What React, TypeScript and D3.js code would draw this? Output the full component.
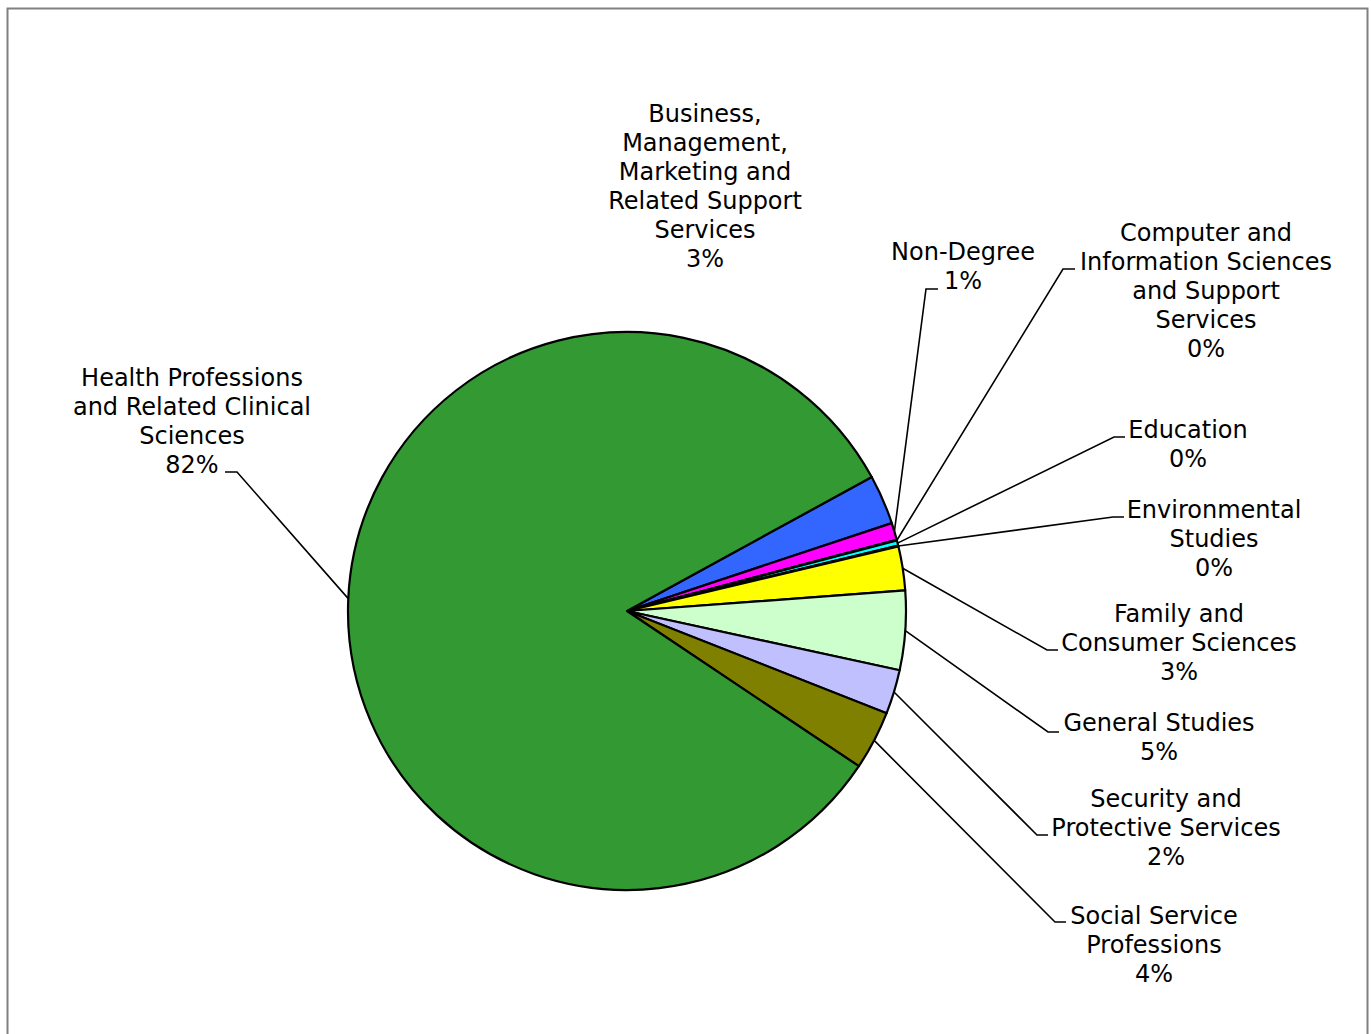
import React from "react";
import * as d3 from "d3";

// ---- data ----
const categories = [
  "Business, Management, Marketing and Related Support Services",
  "Non-Degree",
  "Computer and Information Sciences and Support Services",
  "Education",
  "Environmental Studies",
  "Family and Consumer Sciences",
  "General Studies",
  "Security and Protective Services",
  "Social Service Professions",
  "Health Professions and Related Clinical Sciences",
];
const values = [2.87, 1.0, 0.04, 0.3, 0.04, 2.55, 4.58, 2.56, 3.42, 82.64];
const percentLabels = ["3%", "1%", "0%", "0%", "0%", "3%", "5%", "2%", "4%", "82%"];
const labelLines = [
  ["Business,", "Management,", "Marketing and", "Related Support", "Services"],
  ["Non-Degree"],
  ["Computer and", "Information Sciences", "and Support", "Services"],
  ["Education"],
  ["Environmental", "Studies"],
  ["Family and", "Consumer Sciences"],
  ["General Studies"],
  ["Security and", "Protective Services"],
  ["Social Service", "Professions"],
  ["Health Professions", "and Related Clinical", "Sciences"],
];
const colors = [
  "#3366FF", "#FF00FF", "#800080", "#00FFFF", "#008080",
  "#FFFF00", "#CCFFCC", "#C0C0FF", "#808000", "#339933",
];

// ---- layout (not data) ----
const W = 1371, H = 1034;
const CX = 627, CY = 611, R = 279;
const START = (61.3 * Math.PI) / 180;
const LINE_H = 29;
type Lay = { x: number; y: number; leader: [number, number][] | null };
const labelLayout: Lay[] = [
  { x: 705, y: 122, leader: null },
  { x: 963, y: 260, leader: [[926, 289], [938, 289]] },
  { x: 1206, y: 241, leader: [[1063, 269], [1075, 269]] },
  { x: 1188, y: 438, leader: [[1114, 437], [1125, 437]] },
  { x: 1214, y: 518, leader: [[1113, 517], [1124, 517]] },
  { x: 1179, y: 622, leader: [[1047, 650], [1058, 650]] },
  { x: 1159, y: 731, leader: [[1048, 732], [1059, 732]] },
  { x: 1166, y: 807, leader: [[1037, 835], [1048, 835]] },
  { x: 1154, y: 924, leader: [[1055, 922], [1066, 922]] },
  { x: 192, y: 386, leader: [[237, 472], [225, 472]] },
];

export default function App() {
  const pie = d3
    .pie<number>()
    .sort(null)
    .value((d) => d)
    .startAngle(START)
    .endAngle(START + 2 * Math.PI);
  const arcs = pie(values);
  const arcGen = d3.arc<d3.PieArcDatum<number>>().innerRadius(0).outerRadius(R);
  const line = d3.line();

  return (
    <svg
      width={W}
      height={H}
      style={{ position: "absolute", left: 0, top: 0, background: "#fff" }}
      fontFamily="'DejaVu Sans', Verdana, sans-serif"
      fontSize={24}
    >
      <rect x={7.5} y={8.5} width={1360} height={1100} fill="#fff" stroke="#808080" strokeWidth={2} />
      <g transform={`translate(${CX},${CY})`}>
        {arcs.map((a, i) => (
          <path key={i} d={arcGen(a) || ""} fill={colors[i]} stroke="#000" strokeWidth={2.2} strokeLinejoin="round" />
        ))}
      </g>
      {arcs.map((a, i) => {
        const lay = labelLayout[i];
        if (!lay.leader) return null;
        const mid = (a.startAngle + a.endAngle) / 2;
        const p: [number, number] = [CX + R * Math.sin(mid), CY - R * Math.cos(mid)];
        return (
          <path key={"l" + i} d={line([p, ...lay.leader]) || ""} fill="none" stroke="#000" strokeWidth={1.6} />
        );
      })}
      {labelLines.map((lines, i) => {
        const lay = labelLayout[i];
        const all = [...lines, percentLabels[i]];
        return (
          <text key={"t" + i} x={lay.x} y={lay.y} textAnchor="middle" fill="#000">
            {all.map((s, j) => (
              <tspan key={j} x={lay.x} y={lay.y + j * LINE_H}>
                {s}
              </tspan>
            ))}
          </text>
        );
      })}
    </svg>
  );
}
